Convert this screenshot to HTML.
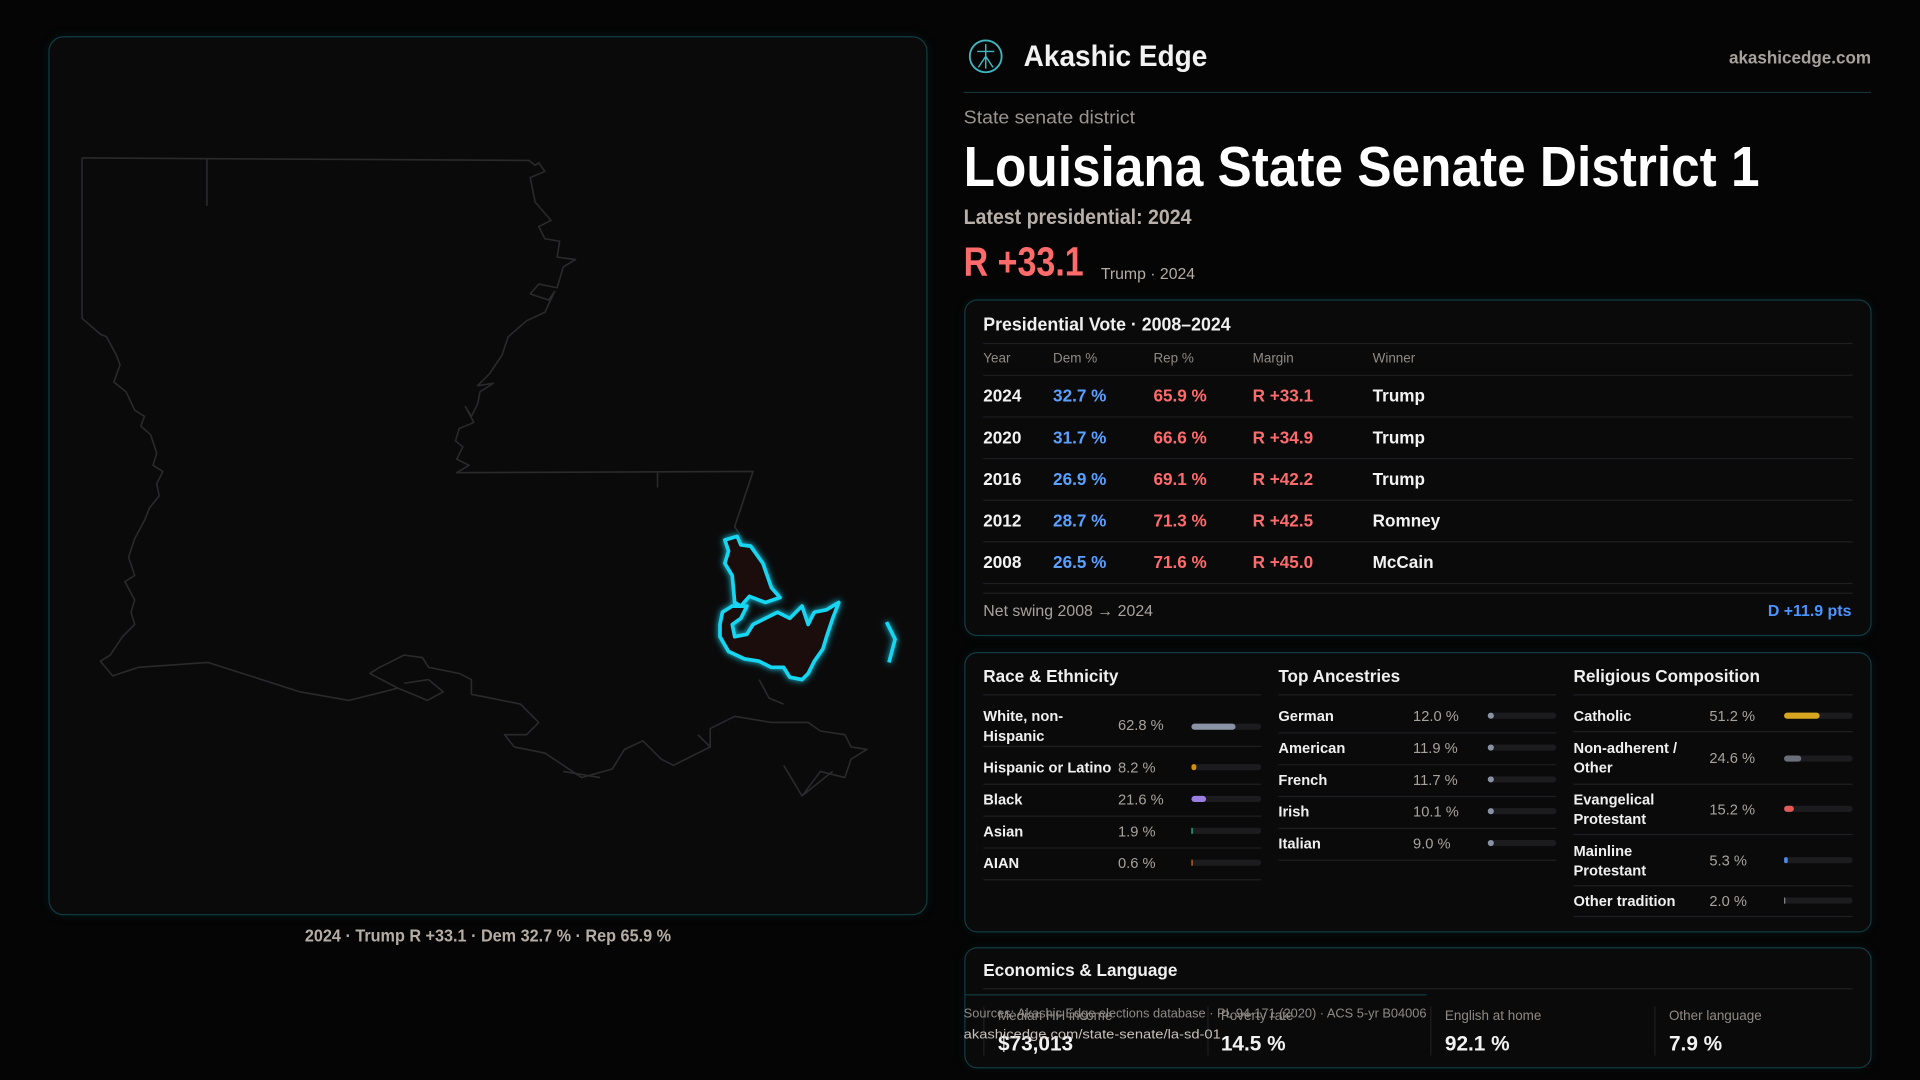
<!DOCTYPE html>
<html><head><meta charset="utf-8"><style>
html,body{margin:0;padding:0;background:#050505;width:1920px;height:1080px;overflow:hidden}
svg{display:block}
text{font-family:"Liberation Sans",sans-serif}
</style></head><body>
<svg width="1920" height="1080" viewBox="0 0 1568 882" xmlns="http://www.w3.org/2000/svg">
<defs>
<filter id="glow" x="-20%" y="-20%" width="140%" height="140%"><feGaussianBlur stdDeviation="2.5" result="b"/><feMerge><feMergeNode in="b"/><feMergeNode in="SourceGraphic"/></feMerge></filter>
<filter id="pg" x="-5%" y="-5%" width="110%" height="110%"><feGaussianBlur stdDeviation="4"/></filter>
</defs>
<rect width="1568" height="882" fill="#050505"/>
<rect x="40" y="30" width="717" height="717" rx="12" fill="#0a3038" opacity="0.35" filter="url(#pg)"/>
<rect x="40" y="30" width="717" height="717" rx="12" fill="#0b0a0b" stroke="#0f3c45" stroke-width="1"/>
<g fill="none" stroke="#2a2a2c" stroke-width="1.3" stroke-linejoin="round">
<path d="M67,129 L432,131 L437,135 L440,133 L445,140 L433,145 L437,165 L450,180 L440,185 L445,195 L457,197 L455,210 L470,212 L460,218 L455,235 L440,232 L433,240 L448,245 L453,238 L445,255 L430,262 L415,275 L410,290 L400,305 L390,315 L403,313 L392,320 L390,330 L385,340 L380,332 L387,345 L375,350 L372,360 L378,365 L373,375 L383,380 L373,386 L615,385 L600,430 L606,440"/>
<path d="M169,129 L169,168 M537,386 L537,398"/>
<path d="M67,129 L67,260 L82,273 L87,275 L95,290 L98,298 L93,312 L103,320 L110,335 L118,340 L115,348 L123,355 L128,370 L125,380 L133,385 L128,395 L130,405 L122,415 L118,425 L110,440 L105,455 L110,470 L102,475 L110,490 L107,500 L110,510 L100,520 L90,535 L82,540 L92,552 L113,545 L170,541 L245,565 L285,572 L325,562"/>
<path d="M325,562 L302,550 L310,545 L330,535 L345,537 L350,545 L365,548 L375,550 L385,555 L385,567 L400,570 L425,575 L440,590 L430,600 L412,600 L420,610 L445,615 L460,625 L475,635 L500,628 L510,612 L525,605 L540,620 L550,625 L580,610 L580,595 L600,585 L630,590 L660,590 L670,597 L690,600 L695,610 L708,612 L695,620 L690,635 L670,630 L655,650 L680,630"/>
<path d="M325,562 L349,572 L362,565 L350,555 L330,558 M620,555 L628,570 L640,575 M570,600 L580,610 M655,650 L640,625 M460,630 L490,635"/>
</g>
<g filter="url(#glow)" stroke="#19d6f2" stroke-width="3" stroke-linejoin="round" fill="#1a0d0e">
<path d="M592,441 L602,438 L605,445 L613,446 L623,460 L630,480 L637,488 L625,492 L612,487 L605,495 L600,492 L598,470 L592,460 L595,450 Z"/>
<path d="M590,500 L598,495 L610,495 L605,505 L598,510 L600,520 L610,518 L615,510 L625,505 L635,500 L645,505 L655,495 L660,510 L665,500 L675,498 L685,492 L680,505 L675,520 L672,530 L665,540 L660,550 L655,555 L645,553 L640,545 L630,545 L620,540 L608,538 L595,532 L588,520 L588,510 Z"/>
<path d="M724,508 L731,522 L726,541" fill="none"/>
</g>
<text x="249" y="769" font-size="14" fill="#b5aca4" font-weight="bold" textLength="299" lengthAdjust="spacingAndGlyphs">2024 · Trump R +33.1 · Dem 32.7 % · Rep 65.9 %</text>

<circle cx="805" cy="46" r="13" fill="none" stroke="#3fb6c0" stroke-width="1.5"/>
<path d="M805,36 L805,56 M798,42 L812,42 M799,55 L805,46 L811,55" stroke="#3fb6c0" stroke-width="1.2" fill="none"/>
<text x="836" y="54" font-size="24" font-weight="bold" fill="#f2f2f2" textLength="150" lengthAdjust="spacingAndGlyphs">Akashic Edge</text>
<text x="1528" y="52" font-size="14" font-weight="bold" fill="#a8a29c" text-anchor="end" textLength="116" lengthAdjust="spacingAndGlyphs">akashicedge.com</text>
<line x1="787" y1="75.5" x2="1528" y2="75.5" stroke="#163238"/>
<text x="787" y="101" font-size="15" fill="#9a948e" textLength="140" lengthAdjust="spacingAndGlyphs">State senate district</text>
<text x="787" y="152" font-size="46" font-weight="bold" fill="#ffffff" textLength="650" lengthAdjust="spacingAndGlyphs">Louisiana State Senate District 1</text>
<text x="787" y="183" font-size="17" font-weight="bold" fill="#b8b0a8" textLength="186" lengthAdjust="spacingAndGlyphs">Latest presidential: 2024</text>
<text x="787" y="225" font-size="33" font-weight="bold" fill="#ff6b6b" textLength="98" lengthAdjust="spacingAndGlyphs">R +33.1</text>
<text x="899" y="228" font-size="13" fill="#b5aca4" textLength="77" lengthAdjust="spacingAndGlyphs">Trump · 2024</text>

<rect x="788" y="245" width="740" height="274" rx="10" fill="#0a3038" opacity="0.3" filter="url(#pg)"/>
<rect x="788" y="245" width="740" height="274" rx="10" fill="#0a0a0b" stroke="#113a42"/>
<text x="803" y="270" font-size="15" font-weight="bold" fill="#f0f0f0" textLength="202" lengthAdjust="spacingAndGlyphs">Presidential Vote · 2008–2024</text>
<g stroke="#1f1f22"><line x1="803" y1="280.5" x2="1513" y2="280.5"/><line x1="803" y1="306.5" x2="1513" y2="306.5"/><line x1="803" y1="340.5" x2="1513" y2="340.5"/><line x1="803" y1="374.5" x2="1513" y2="374.5"/><line x1="803" y1="408.5" x2="1513" y2="408.5"/><line x1="803" y1="442.5" x2="1513" y2="442.5"/><line x1="803" y1="476.5" x2="1513" y2="476.5"/><line x1="803" y1="484.5" x2="1513" y2="484.5"/></g>
<g font-size="11" fill="#8f8a85"><text x="803" y="296">Year</text><text x="860" y="296">Dem %</text><text x="942" y="296">Rep %</text><text x="1023" y="296">Margin</text><text x="1121" y="296">Winner</text></g>
<g font-size="14" font-weight="bold">
<g fill="#f2f2f2"><text x="803" y="328">2024</text><text x="803" y="362">2020</text><text x="803" y="396">2016</text><text x="803" y="430">2012</text><text x="803" y="464">2008</text>
<text x="1121" y="328">Trump</text><text x="1121" y="362">Trump</text><text x="1121" y="396">Trump</text><text x="1121" y="430">Romney</text><text x="1121" y="464">McCain</text></g>
<g fill="#5aa0ff"><text x="860" y="328">32.7 %</text><text x="860" y="362">31.7 %</text><text x="860" y="396">26.9 %</text><text x="860" y="430">28.7 %</text><text x="860" y="464">26.5 %</text></g>
<g fill="#ff6b6b"><text x="942" y="328">65.9 %</text><text x="942" y="362">66.6 %</text><text x="942" y="396">69.1 %</text><text x="942" y="430">71.3 %</text><text x="942" y="464">71.6 %</text>
<text x="1023" y="328">R +33.1</text><text x="1023" y="362">R +34.9</text><text x="1023" y="396">R +42.2</text><text x="1023" y="430">R +42.5</text><text x="1023" y="464">R +45.0</text></g>
</g>
<text x="803" y="503" font-size="13" fill="#a8a29c">Net swing 2008 → 2024</text>
<text x="1512" y="503" font-size="13" font-weight="bold" fill="#4d94ff" text-anchor="end">D +11.9 pts</text>

<rect x="788" y="533" width="740" height="228" rx="10" fill="#0a3038" opacity="0.3" filter="url(#pg)"/>
<rect x="788" y="533" width="740" height="228" rx="10" fill="#0a0a0b" stroke="#113a42"/>
<g font-size="14" font-weight="bold" fill="#f0f0f0"><text x="803" y="557">Race &amp; Ethnicity</text><text x="1044" y="557">Top Ancestries</text><text x="1285" y="557">Religious Composition</text></g>
<g stroke="#1f1f22">
<line x1="803" y1="567.5" x2="1030" y2="567.5"/><line x1="1044" y1="567.5" x2="1271" y2="567.5"/><line x1="1285" y1="567.5" x2="1513" y2="567.5"/>
<line x1="803" y1="609.5" x2="1030" y2="609.5"/><line x1="803" y1="640.5" x2="1030" y2="640.5"/><line x1="803" y1="666.5" x2="1030" y2="666.5"/><line x1="803" y1="692.5" x2="1030" y2="692.5"/><line x1="803" y1="718.5" x2="1030" y2="718.5"/>
<line x1="1044" y1="598.5" x2="1271" y2="598.5"/><line x1="1044" y1="624.5" x2="1271" y2="624.5"/><line x1="1044" y1="650.5" x2="1271" y2="650.5"/><line x1="1044" y1="676.5" x2="1271" y2="676.5"/><line x1="1044" y1="702.5" x2="1271" y2="702.5"/>
<line x1="1285" y1="597.5" x2="1513" y2="597.5"/><line x1="1285" y1="640.5" x2="1513" y2="640.5"/><line x1="1285" y1="681.5" x2="1513" y2="681.5"/><line x1="1285" y1="723.5" x2="1513" y2="723.5"/><line x1="1285" y1="748.5" x2="1513" y2="748.5"/>
</g>
<g font-size="12" font-weight="bold" fill="#f0f0f0">
<text x="803" y="589">White, non-</text><text x="803" y="605">Hispanic</text><text x="803" y="631">Hispanic or Latino</text><text x="803" y="657">Black</text><text x="803" y="683">Asian</text><text x="803" y="709">AIAN</text>
<text x="1044" y="589">German</text><text x="1044" y="615">American</text><text x="1044" y="641">French</text><text x="1044" y="667">Irish</text><text x="1044" y="693">Italian</text>
<text x="1285" y="589">Catholic</text><text x="1285" y="615">Non-adherent /</text><text x="1285" y="631">Other</text><text x="1285" y="657">Evangelical</text><text x="1285" y="673">Protestant</text><text x="1285" y="699">Mainline</text><text x="1285" y="715">Protestant</text><text x="1285" y="740">Other tradition</text>
</g>
<g font-size="12" fill="#a8a29c">
<text x="913" y="596">62.8 %</text><text x="913" y="631">8.2 %</text><text x="913" y="657">21.6 %</text><text x="913" y="683">1.9 %</text><text x="913" y="709">0.6 %</text>
<text x="1154" y="589">12.0 %</text><text x="1154" y="615">11.9 %</text><text x="1154" y="641">11.7 %</text><text x="1154" y="667">10.1 %</text><text x="1154" y="693">9.0 %</text>
<text x="1396" y="589">51.2 %</text><text x="1396" y="623">24.6 %</text><text x="1396" y="665">15.2 %</text><text x="1396" y="707">5.3 %</text><text x="1396" y="740">2.0 %</text>
</g>
<g fill="#1c1c1f">
<rect x="973" y="591" width="57" height="5" rx="2.5"/><rect x="973" y="624" width="57" height="5" rx="2.5"/><rect x="973" y="650" width="57" height="5" rx="2.5"/><rect x="973" y="676" width="57" height="5" rx="2.5"/><rect x="973" y="702" width="57" height="5" rx="2.5"/>
<rect x="1215" y="582" width="56" height="5" rx="2.5"/><rect x="1215" y="608" width="56" height="5" rx="2.5"/><rect x="1215" y="634" width="56" height="5" rx="2.5"/><rect x="1215" y="660" width="56" height="5" rx="2.5"/><rect x="1215" y="686" width="56" height="5" rx="2.5"/>
<rect x="1457" y="582" width="56" height="5" rx="2.5"/><rect x="1457" y="617" width="56" height="5" rx="2.5"/><rect x="1457" y="658" width="56" height="5" rx="2.5"/><rect x="1457" y="700" width="56" height="5" rx="2.5"/><rect x="1457" y="733" width="56" height="5" rx="2.5"/>
</g>
<rect x="973" y="591" width="36" height="5" rx="2.5" fill="#8a93a6"/>
<rect x="973" y="624" width="4" height="5" rx="2" fill="#d4900a"/>
<rect x="973" y="650" width="12" height="5" rx="2.5" fill="#9a7ee0"/>
<rect x="973" y="676" width="1" height="5" fill="#2cc09a"/>
<rect x="973" y="702" width="1" height="5" fill="#d07020"/>
<g fill="#8a93a6"><rect x="1215" y="582" width="5" height="5" rx="2.5"/><rect x="1215" y="608" width="5" height="5" rx="2.5"/><rect x="1215" y="634" width="5" height="5" rx="2.5"/><rect x="1215" y="660" width="5" height="5" rx="2.5"/><rect x="1215" y="686" width="5" height="5" rx="2.5"/></g>
<rect x="1457" y="582" width="29" height="5" rx="2.5" fill="#d8a520"/>
<rect x="1457" y="617" width="14" height="5" rx="2.5" fill="#6a6e78"/>
<rect x="1457" y="658" width="8" height="5" rx="2.5" fill="#e05a5a"/>
<rect x="1457" y="700" width="3" height="5" rx="1.5" fill="#4a8ae0"/>
<rect x="1457" y="733" width="1" height="5" fill="#8a8a8a"/>

<rect x="788" y="774" width="740" height="98" rx="10" fill="#0a3038" opacity="0.3" filter="url(#pg)"/>
<rect x="788" y="774" width="740" height="98" rx="10" fill="#0a0a0b" stroke="#113a42"/>
<text x="803" y="797" font-size="14" font-weight="bold" fill="#f0f0f0">Economics &amp; Language</text>
<line x1="803" y1="807.5" x2="1513" y2="807.5" stroke="#1f1f22"/>
<line x1="788" y1="812.5" x2="1165" y2="812.5" stroke="#123a42"/>
<g stroke="#1f1f22"><line x1="803.5" y1="822" x2="803.5" y2="862"/><line x1="986.5" y1="822" x2="986.5" y2="862"/><line x1="1168.5" y1="822" x2="1168.5" y2="862"/><line x1="1351.5" y1="822" x2="1351.5" y2="862"/></g>
<g font-size="11" fill="#8f8a85"><text x="815" y="833">Median HH income</text><text x="997" y="833">Poverty rate</text><text x="1180" y="833">English at home</text><text x="1363" y="833">Other language</text></g>
<g font-size="17" font-weight="bold" fill="#f2f2f2"><text x="815" y="858">$73,013</text><text x="997" y="858">14.5 %</text><text x="1180" y="858">92.1 %</text><text x="1363" y="858">7.9 %</text></g>
<text x="787" y="831" font-size="10.5" fill="#8f8a85" textLength="378" lengthAdjust="spacingAndGlyphs">Sources: Akashic Edge elections database · PL 94-171 (2020) · ACS 5-yr B04006</text>
<text x="787" y="848" font-size="10.5" fill="#c8c0b8" textLength="210" lengthAdjust="spacingAndGlyphs">akashicedge.com/state-senate/la-sd-01</text>
</svg>
</body></html>
